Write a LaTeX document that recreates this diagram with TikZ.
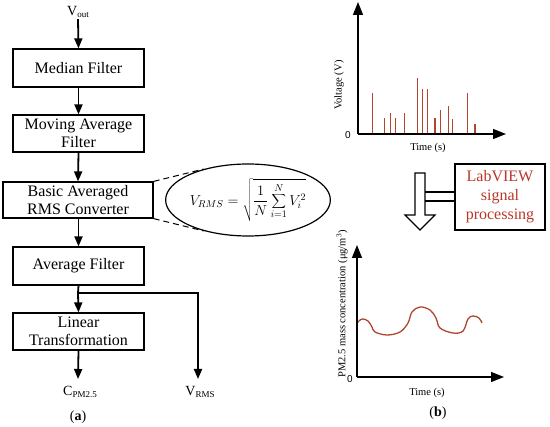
\documentclass[tikz,border=0pt]{standalone}
\usepackage{fontspec}
\setmainfont{Liberation Serif}
\newfontfamily\axsans{Liberation Sans}
\usetikzlibrary{arrows.meta,calc,shapes.geometric}
\definecolor{redtxt}{RGB}{185,55,40}
\definecolor{spike}{RGB}{175,70,45}
\newcommand{\mysub}[1]{\raisebox{-0.4ex}{\fontsize{9}{9}\selectfont #1}}
\begin{document}
\begin{tikzpicture}[x=1pt,y=-1pt,
  blk/.style={draw,line width=1.2pt,align=center,inner sep=0pt,
    font=\fontsize{16}{18}\selectfont,minimum height=37pt},
  flow/.style={line width=1.8pt,-{Triangle[length=10pt,width=8pt]}},
  axis/.style={line width=1.4pt,-{Triangle[length=13pt,width=10pt]}},
  lbl/.style={font=\fontsize{14}{16}\selectfont,inner sep=1pt},
  axl/.style={font=\fontsize{10.5}{12}\selectfont,inner sep=0pt},
  zero/.style={font=\axsans\fontsize{10}{12}\selectfont,inner sep=0pt}]
\useasboundingbox (0,0) rectangle (550,427);
% ---------- (a) ----------
\node[lbl] (vout) at (78,12) {V\mysub{out}};
\node[blk,minimum width=131pt,minimum height=38pt] (med) at (78.5,68) {Median Filter};
\node[blk,minimum width=131pt] (mov) at (78.5,133.5) {Moving Average\\Filter};
\node[blk,minimum width=150pt,minimum height=36pt] (rms) at (78,200) {Basic Averaged\\RMS Converter};
\node[blk,minimum width=131pt,minimum height=38pt] (avg) at (78.5,266) {Average Filter};
\node[blk,minimum width=131pt] (lin) at (78.5,331.5) {Linear\\Transformation};
\node[lbl] (cpm) at (80,392) {C\mysub{PM2.5}};
\node[lbl] (vrm) at (200,392) {V\mysub{RMS}};
\node[font=\fontsize{14}{16}\selectfont] (la) at (78,417) {(\textbf{a})};
\coordinate (j) at (78,293);
\coordinate (cpmtop) at (78,379);
\coordinate (vrmtop) at (198,379);
\draw[flow] (vout.south) -- (med.north);
\draw[flow] (med.south) -- (mov.north);
\draw[flow] (mov.south) -- (rms.north);
\draw[flow] ($(rms.south)+(0.5,0)$) -- (avg.north);
\draw[line width=1.8pt] (avg.south) -- (j);
\draw[flow] (j) -- (lin.north);
\draw[flow] (j) -| (vrmtop);
\draw[flow] (lin.south) -- (cpmtop);
% ellipse with formula
\node[draw,ellipse,line width=1.2pt,minimum width=132pt,minimum height=72pt,inner sep=0pt] (ell) at (248,200)
  {\fontsize{14}{16}\selectfont $\displaystyle V_{RMS}=\sqrt{\frac{1}{N}\sum_{i=1}^{N}V_i^{2}}$};
\draw[dashed,line width=1pt,dash pattern=on 6pt off 4pt] (rms.north east) -- (ell.145);
\draw[dashed,line width=1pt,dash pattern=on 6pt off 4pt] (rms.south east) -- (ell.215);
% ---------- (b) top plot ----------
\coordinate (o1) at (358,134);
\coordinate (y1) at (358,2);
\coordinate (x1) at (506,134);
\foreach \xx/\yy in {372.7/92.7,384.3/118,390.3/113,395.7/118,404.3/113,417.7/78,422.7/89,427.7/89,435/118,440.7/110,448.7/106,452.3/119,467.7/92.7,475/124}
  \draw[spike,line width=1.1pt] (\xx,134) -- (\xx,\yy);
\draw[axis] (o1) -- (y1);
\draw[axis] (o1) -- (x1);
\node[zero] (z1) at (348,135) {0};
\node[axl,rotate=90] (vl) at (339,85) {Voltage (V)};
\node[axl] (t1) at (428,148) {Time (s)};
% hollow arrow and LabVIEW box
\draw[line width=1.1pt,fill=white] (415,173) -- (425,173) -- (425,215) -- (435,215) -- (420,230) -- (405,215) -- (415,215) -- cycle;
\node[draw,line width=1.2pt,minimum width=90pt,minimum height=66pt,align=center,inner sep=0pt,
  text=redtxt,font=\fontsize{16}{19}\selectfont] (lab) at (500,197) {LabVIEW\\signal\\processing};
\coordinate (c1) at (425,192);
\coordinate (c2) at (425,201);
\draw[line width=1.1pt] (c1) -- (c1 -| lab.west);
\draw[line width=1.1pt] (c2) -- (c2 -| lab.west);
% ---------- (b) bottom plot ----------
\coordinate (o2) at (357,377);
\coordinate (y2) at (357,245);
\coordinate (x2) at (504,377);
\draw[spike,line width=1.3pt] plot[smooth,tension=0.6] coordinates {(357,323) (362,319) (368,321) (372,327) (375,332) (387,335) (400,332) (408,323) (412,312) (420,307) (430,310) (436,318) (440,328) (453,333) (463,331) (468,319) (473,316) (479,318) (482,323)};
\draw[axis] (o2) -- (y2);
\draw[axis] (o2) -- (x2);
\node[zero] (z2) at (350,379) {0};
\node[axl,rotate=90] (pl) at (342,304) {PM2.5 mass concentration (μg/m\textsuperscript{3})};
\node[axl] (t2) at (427,393) {Time (s)};
\node[font=\fontsize{14}{16}\selectfont] (lb) at (438,413) {(\textbf{b})};
\end{tikzpicture}
\end{document}
